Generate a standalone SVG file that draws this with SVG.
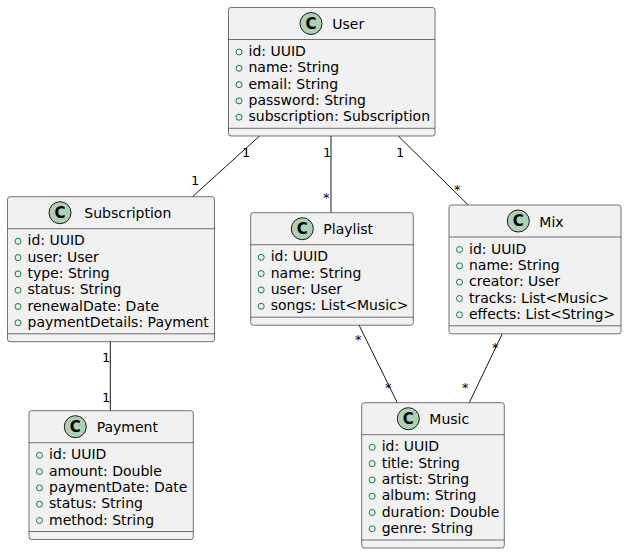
<svg xmlns="http://www.w3.org/2000/svg" width="627" height="554" viewBox="0 0 627 554">
<style>
.box{fill:#F1F1F1;stroke:#181818;stroke-width:0.6}
.sep{stroke:#181818;stroke-width:0.6}
.ci{fill:#ADD1B2;stroke:#181818;stroke-width:1}
.cl{font-family:"DejaVu Sans",sans-serif;font-size:15px;font-weight:bold;text-anchor:middle;fill:#000}
.t{font-family:"DejaVu Sans",sans-serif;font-size:14px;fill:#000}
.b{fill:none;stroke:#038048;stroke-width:1}
.ln{stroke:#181818;stroke-width:1;fill:none}
.lb{font-family:"DejaVu Sans",sans-serif;font-size:13px;fill:#000}
</style>
<rect width="627" height="554" fill="#FFFFFF"/>
<g id="connectors">
<line class="ln" x1="259.5" y1="136" x2="192.5" y2="196.7"/>
<text class="lb" x="242" y="157">1</text>
<text class="lb" x="191" y="185">1</text>
<line class="ln" x1="331" y1="136" x2="331" y2="212.7"/>
<text class="lb" x="323" y="157">1</text>
<text class="lb" x="323" y="202">*</text>
<line class="ln" x1="398.3" y1="136" x2="468.3" y2="205"/>
<text class="lb" x="396" y="157">1</text>
<text class="lb" x="454" y="194">*</text>
<line class="ln" x1="110.3" y1="341.7" x2="110.3" y2="410.7"/>
<text class="lb" x="102" y="362">1</text>
<text class="lb" x="102" y="402">1</text>
<line class="ln" x1="359" y1="325" x2="397.3" y2="402.7"/>
<text class="lb" x="355" y="344">*</text>
<text class="lb" x="385" y="392">*</text>
<line class="ln" x1="502.3" y1="333.7" x2="469.3" y2="402.7"/>
<text class="lb" x="492" y="352">*</text>
<text class="lb" x="462" y="392">*</text>
</g>
<g id="User">
<rect class="box" x="228.5" y="7.5" width="206.5" height="128.5" rx="2.5"/>
<circle class="ci" cx="311" cy="23.5" r="11"/>
<text class="cl" x="311" y="28.8">C</text>
<text class="t" x="332.3" y="29">User</text>
<line class="sep" x1="228.5" y1="39.5" x2="435" y2="39.5"/>
<circle class="b" cx="239" cy="52" r="3"/><text class="t" x="248.5" y="56">id: UUID</text>
<circle class="b" cx="239" cy="68.3" r="3"/><text class="t" x="248.5" y="72.3">name: String</text>
<circle class="b" cx="239" cy="84.6" r="3"/><text class="t" x="248.5" y="88.6">email: String</text>
<circle class="b" cx="239" cy="100.9" r="3"/><text class="t" x="248.5" y="104.9">password: String</text>
<circle class="b" cx="239" cy="117.2" r="3"/><text class="t" x="248.5" y="121.2">subscription: Subscription</text>
<line class="sep" x1="228.5" y1="128.3" x2="435" y2="128.3"/>
</g>
<g id="Subscription">
<rect class="box" x="7.5" y="196.7" width="207" height="145" rx="2.5"/>
<circle class="ci" cx="60" cy="212.7" r="11"/>
<text class="cl" x="60" y="218">C</text>
<text class="t" x="84.3" y="218.2">Subscription</text>
<line class="sep" x1="7.5" y1="228.7" x2="214.5" y2="228.7"/>
<circle class="b" cx="18" cy="241.3" r="3"/><text class="t" x="27.5" y="245.3">id: UUID</text>
<circle class="b" cx="18" cy="257.6" r="3"/><text class="t" x="27.5" y="261.6">user: User</text>
<circle class="b" cx="18" cy="273.9" r="3"/><text class="t" x="27.5" y="277.9">type: String</text>
<circle class="b" cx="18" cy="290.2" r="3"/><text class="t" x="27.5" y="294.2">status: String</text>
<circle class="b" cx="18" cy="306.5" r="3"/><text class="t" x="27.5" y="310.5">renewalDate: Date</text>
<circle class="b" cx="18" cy="322.8" r="3"/><text class="t" x="27.5" y="326.8">paymentDetails: Payment</text>
<line class="sep" x1="7.5" y1="333.8" x2="214.5" y2="333.8"/>
</g>
<g id="Playlist">
<rect class="box" x="250.7" y="212.7" width="162.6" height="112.5" rx="2.5"/>
<circle class="ci" cx="302.3" cy="228.7" r="11"/>
<text class="cl" x="302.3" y="234">C</text>
<text class="t" x="323.3" y="234.2">Playlist</text>
<line class="sep" x1="250.7" y1="244.7" x2="413.3" y2="244.7"/>
<circle class="b" cx="261.2" cy="257.3" r="3"/><text class="t" x="270.7" y="261.3">id: UUID</text>
<circle class="b" cx="261.2" cy="273.6" r="3"/><text class="t" x="270.7" y="277.6">name: String</text>
<circle class="b" cx="261.2" cy="289.9" r="3"/><text class="t" x="270.7" y="293.9">user: User</text>
<circle class="b" cx="261.2" cy="306.2" r="3"/><text class="t" x="270.7" y="310.2">songs: List&lt;Music&gt;</text>
<line class="sep" x1="250.7" y1="317.2" x2="413.3" y2="317.2"/>
</g>
<g id="Mix">
<rect class="box" x="449" y="205" width="172" height="128.8" rx="2.5"/>
<circle class="ci" cx="518.3" cy="221" r="11"/>
<text class="cl" x="518.3" y="226.3">C</text>
<text class="t" x="539.3" y="226.5">Mix</text>
<line class="sep" x1="449" y1="237" x2="621" y2="237"/>
<circle class="b" cx="459.5" cy="249.6" r="3"/><text class="t" x="469" y="253.6">id: UUID</text>
<circle class="b" cx="459.5" cy="265.9" r="3"/><text class="t" x="469" y="269.9">name: String</text>
<circle class="b" cx="459.5" cy="282.2" r="3"/><text class="t" x="469" y="286.2">creator: User</text>
<circle class="b" cx="459.5" cy="298.5" r="3"/><text class="t" x="469" y="302.5">tracks: List&lt;Music&gt;</text>
<circle class="b" cx="459.5" cy="314.8" r="3"/><text class="t" x="469" y="318.8">effects: List&lt;String&gt;</text>
<line class="sep" x1="449" y1="325.8" x2="621" y2="325.8"/>
</g>
<g id="Payment">
<rect class="box" x="29" y="410.7" width="164.3" height="128.8" rx="2.5"/>
<circle class="ci" cx="75.3" cy="426.7" r="11"/>
<text class="cl" x="75.3" y="432">C</text>
<text class="t" x="96.7" y="432.2">Payment</text>
<line class="sep" x1="29" y1="442.7" x2="193.3" y2="442.7"/>
<circle class="b" cx="39.5" cy="455.3" r="3"/><text class="t" x="49" y="459.3">id: UUID</text>
<circle class="b" cx="39.5" cy="471.6" r="3"/><text class="t" x="49" y="475.6">amount: Double</text>
<circle class="b" cx="39.5" cy="487.9" r="3"/><text class="t" x="49" y="491.9">paymentDate: Date</text>
<circle class="b" cx="39.5" cy="504.2" r="3"/><text class="t" x="49" y="508.2">status: String</text>
<circle class="b" cx="39.5" cy="520.5" r="3"/><text class="t" x="49" y="524.5">method: String</text>
<line class="sep" x1="29" y1="531.5" x2="193.3" y2="531.5"/>
</g>
<g id="Music">
<rect class="box" x="361.7" y="402.7" width="142.6" height="145.3" rx="2.5"/>
<circle class="ci" cx="408.3" cy="418.7" r="11"/>
<text class="cl" x="408.3" y="424">C</text>
<text class="t" x="429.3" y="424.2">Music</text>
<line class="sep" x1="361.7" y1="434.7" x2="504.3" y2="434.7"/>
<circle class="b" cx="372.2" cy="447.3" r="3"/><text class="t" x="381.7" y="451.3">id: UUID</text>
<circle class="b" cx="372.2" cy="463.6" r="3"/><text class="t" x="381.7" y="467.6">title: String</text>
<circle class="b" cx="372.2" cy="479.9" r="3"/><text class="t" x="381.7" y="483.9">artist: String</text>
<circle class="b" cx="372.2" cy="496.2" r="3"/><text class="t" x="381.7" y="500.2">album: String</text>
<circle class="b" cx="372.2" cy="512.5" r="3"/><text class="t" x="381.7" y="516.5">duration: Double</text>
<circle class="b" cx="372.2" cy="528.8" r="3"/><text class="t" x="381.7" y="532.8">genre: String</text>
<line class="sep" x1="361.7" y1="540" x2="504.3" y2="540"/>
</g>
</svg>
